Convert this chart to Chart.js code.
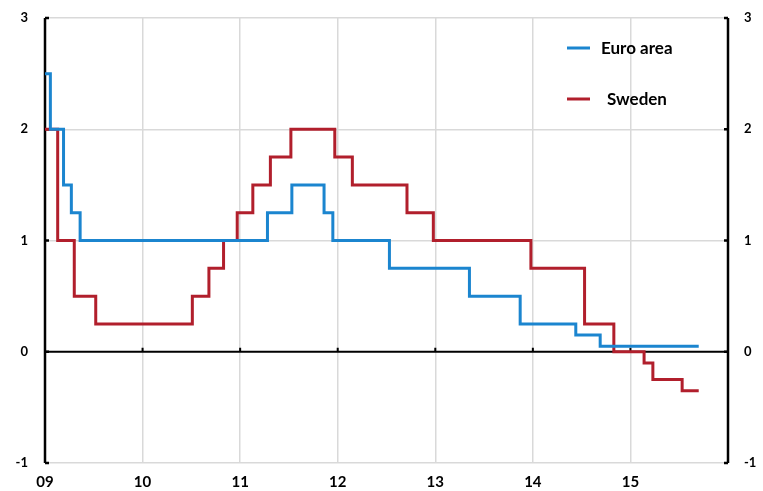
<!DOCTYPE html>
<html>
<head>
<meta charset="utf-8">
<script src="https://cdn.jsdelivr.net/npm/chart.js@4/dist/chart.umd.min.js"></script>
<style>
  html, body { margin: 0; padding: 0; background: #fff; }
  #wrap { width: 763px; height: 491px; }
</style>
</head>
<body>
<div id="wrap"><canvas id="rateChart"></canvas></div>
<script>
  // policy rates, per cent; dates as decimal years (change dates)
  var yearTicks = [2009, 2010, 2011, 2012, 2013, 2014, 2015, 2016];
  var yearLabels = ['09', '10', '11', '12', '13', '14', '15', ''];
  var rateTicks = [-1, 0, 1, 2, 3];

  var euroDates = [2009.0, 2009.055, 2009.19, 2009.27, 2009.36, 2011.28, 2011.53, 2011.86, 2011.95, 2012.53, 2013.35, 2013.87, 2014.44, 2014.69, 2015.70];
  var euroRates = [2.5, 2.0, 1.5, 1.25, 1.0, 1.25, 1.5, 1.25, 1.0, 0.75, 0.5, 0.25, 0.15, 0.05, 0.05];

  var swedenDates = [2009.0, 2009.13, 2009.30, 2009.52, 2010.51, 2010.68, 2010.83, 2010.97, 2011.13, 2011.31, 2011.52, 2011.97, 2012.15, 2012.71, 2012.98, 2013.98, 2014.53, 2014.83, 2015.14, 2015.23, 2015.53, 2015.70];
  var swedenRates = [2.0, 1.0, 0.5, 0.25, 0.5, 0.75, 1.0, 1.25, 1.5, 1.75, 2.0, 1.75, 1.5, 1.25, 1.0, 0.75, 0.25, 0.0, -0.1, -0.25, -0.35, -0.35];

  var fontFamily = 'Lato, "Open Sans", sans-serif';

  function toPoints(dates, rates) {
    return dates.map(function (d, i) { return { x: d, y: rates[i] }; });
  }

  // black axes: zero line, left and right borders, small inward ticks
  var axisLines = {
    id: 'axisLines',
    beforeDatasetsDraw: function (chart) {
      var ctx = chart.ctx, a = chart.chartArea;
      var xs = chart.scales.x, ys = chart.scales.y;
      var y0 = ys.getPixelForValue(0);
      ctx.save();
      ctx.strokeStyle = '#000';
      ctx.lineWidth = 2;
      ctx.beginPath();
      ctx.moveTo(a.left, y0);
      ctx.lineTo(a.right, y0);
      yearTicks.forEach(function (v) {
        var px = xs.getPixelForValue(v);
        ctx.moveTo(px, y0);
        ctx.lineTo(px, y0 - 4);
      });
      ctx.stroke();
      ctx.lineWidth = 2.5;
      ctx.beginPath();
      ctx.moveTo(a.left, a.top);
      ctx.lineTo(a.left, a.bottom);
      ctx.moveTo(a.right, a.top);
      ctx.lineTo(a.right, a.bottom);
      rateTicks.forEach(function (v) {
        var py = ys.getPixelForValue(v);
        ctx.moveTo(a.left, py);
        ctx.lineTo(a.left + 4, py);
        ctx.moveTo(a.right, py);
        ctx.lineTo(a.right - 4, py);
      });
      ctx.stroke();
      ctx.restore();
    }
  };

  // legend drawn inside the plot, top right
  var innerLegend = {
    id: 'innerLegend',
    afterDraw: function (chart) {
      var ctx = chart.ctx;
      var spots = [{ x: 567, y: 48, tx: 601 }, { x: 567, y: 99, tx: 607 }];
      ctx.save();
      ctx.font = 'bold 17px ' + fontFamily;
      ctx.textBaseline = 'middle';
      ctx.fillStyle = '#000';
      chart.data.datasets.forEach(function (ds, i) {
        var s = spots[i];
        ctx.strokeStyle = ds.borderColor;
        ctx.lineWidth = 3;
        ctx.beginPath();
        ctx.moveTo(s.x, s.y);
        ctx.lineTo(s.x + 23, s.y);
        ctx.stroke();
        ctx.fillText(ds.label, s.tx, s.y + 1);
      });
      ctx.restore();
    }
  };

  function fitSide(width) {
    return function (s) {
      s.width = width;
      s.paddingTop = 0;
      s.paddingBottom = 0;
    };
  }

  new Chart('rateChart', {
    type: 'line',
    data: {
      datasets: [{
        label: 'Euro area',
        data: toPoints(euroDates, euroRates),
        borderColor: '#1b85cf',
        borderWidth: 3,
        pointRadius: 0,
        stepped: true,
        fill: false
      }, {
        label: 'Sweden',
        data: toPoints(swedenDates, swedenRates),
        borderColor: '#b11f2c',
        borderWidth: 3,
        pointRadius: 0,
        stepped: true,
        fill: false
      }]
    },
    options: {
      responsive: true,
      maintainAspectRatio: false,
      animation: false,
      layout: { padding: { top: 18 } },
      plugins: { legend: { display: false }, tooltip: { enabled: false } },
      scales: {
        x: {
          type: 'linear',
          min: 2009,
          max: 2016,
          afterBuildTicks: function (s) { s.ticks = yearTicks.map(function (v) { return { value: v }; }); },
          afterFit: function (s) { s.height = 28; },
          ticks: {
            autoSkip: false,
            maxRotation: 0,
            padding: 10,
            color: '#000',
            font: { family: fontFamily, size: 15, weight: 'bold' },
            callback: function (v) { return yearLabels[yearTicks.indexOf(v)]; }
          },
          grid: { color: '#d9d9d9', lineWidth: 1.5, drawTicks: false },
          border: { display: false }
        },
        y: {
          position: 'left',
          min: -1,
          max: 3,
          afterBuildTicks: function (s) { s.ticks = rateTicks.map(function (v) { return { value: v }; }); },
          afterFit: fitSide(45),
          ticks: { padding: 17, color: '#000', font: { family: fontFamily, size: 13, weight: 'bold' } },
          grid: {
            color: function (c) { return c.tick && c.tick.value === 0 ? 'rgba(0,0,0,0)' : '#d9d9d9'; },
            lineWidth: 1.5,
            drawTicks: false
          },
          border: { display: false }
        },
        y2: {
          position: 'right',
          min: -1,
          max: 3,
          afterBuildTicks: function (s) { s.ticks = rateTicks.map(function (v) { return { value: v }; }); },
          afterFit: fitSide(35),
          ticks: { padding: 16, color: '#000', font: { family: fontFamily, size: 13, weight: 'bold' } },
          grid: { display: false, drawTicks: false },
          border: { display: false }
        }
      }
    },
    plugins: [axisLines, innerLegend]
  });
</script>
</body>
</html>
